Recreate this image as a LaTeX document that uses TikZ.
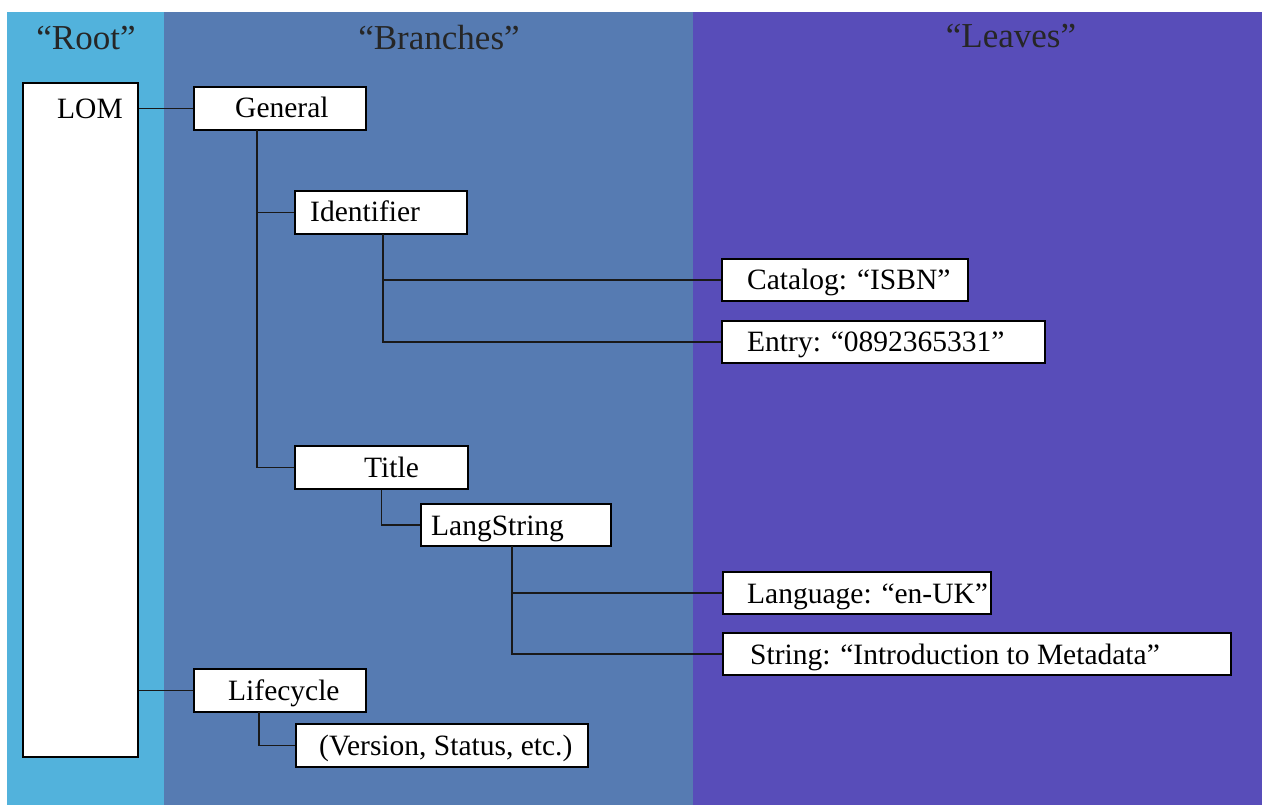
\documentclass[tikz,border=0pt]{standalone}
\usepackage{fontspec}
\setmainfont{Liberation Serif}
\definecolor{rootband}{RGB}{82,178,220}
\definecolor{branchband}{RGB}{86,123,178}
\definecolor{leafband}{RGB}{88,77,185}
\tikzset{
  box/.style={draw=black, line width=1.4pt, fill=white, rectangle, inner sep=0pt},
  lbl/.style={anchor=base west, inner sep=0pt, font=\fontsize{29.5}{32}\selectfont},
  heading/.style={anchor=base, inner sep=0pt, font=\fontsize{35}{38}\selectfont, text=black!85},
  link/.style={draw=black!90, line width=1.4pt}
}
\begin{document}
\begin{tikzpicture}[x=1pt, y=-1pt]
  % canvas and the three bands
  \fill[white] (0,0) rectangle (1262,805);
  \useasboundingbox (0,0) rectangle (1262,805);
  \fill[rootband] (7,12) rectangle (164,805);
  \fill[branchband] (164,12) rectangle (693,805);
  \fill[leafband] (693,12) rectangle (1262,805);

  % band headings
  \node[heading] (hroot) at (86,50) {“Root”};
  \node[heading] (hbranch) at (439,50) {“Branches”};
  \node[heading] (hleaf) at (1011,48) {“Leaves”};

  % boxes
  \node[box, minimum width=115pt, minimum height=674pt] (lom) at (80.5,420) {};
  \node[box, minimum width=172pt, minimum height=43pt] (gen) at (280,108.5) {};
  \node[box, minimum width=172pt, minimum height=43pt] (ident) at (381,212.5) {};
  \node[box, minimum width=246pt, minimum height=42pt] (cat) at (845,280) {};
  \node[box, minimum width=323pt, minimum height=42pt] (entry) at (883.5,342) {};
  \node[box, minimum width=173pt, minimum height=43pt] (title) at (381.5,467.5) {};
  \node[box, minimum width=190pt, minimum height=42pt] (lang) at (516,525) {};
  \node[box, minimum width=268pt, minimum height=42pt] (langu) at (857,593) {};
  \node[box, minimum width=508pt, minimum height=42pt] (str) at (977,654) {};
  \node[box, minimum width=172pt, minimum height=43pt] (life) at (280,690.5) {};
  \node[box, minimum width=292pt, minimum height=43pt] (ver) at (442,745.5) {};

  % box texts
  \node[lbl] (tlom) at (57,119) {LOM};
  \node[lbl] (tgen) at (235,118) {General};
  \node[lbl] (tident) at (310,222) {Identifier};
  \node[lbl] (tcat) at (747,290) {Catalog: “ISBN”};
  \node[lbl] (tentry) at (747,352) {Entry: “0892365331”};
  \node[lbl] (ttitle) at (364,477) {Title};
  \node[lbl] (tlang) at (431,535) {LangString};
  \node[lbl] (tlangu) at (747,603) {Language: “en-UK”};
  \node[lbl] (tstr) at (750,664) {String: “Introduction to Metadata”};
  \node[lbl] (tlife) at (228,700) {Lifecycle};
  \node[lbl] (tver) at (319,755) {(Version, Status, etc.)};

  % branch points of the tree
  \coordinate (genv) at (257,130);
  \coordinate (identv) at (383,234);
  \coordinate (langv) at (512,546);
  \coordinate (lifev) at (259,712);

  % connectors
  \draw[link] (gen.west) -- (gen.west -| lom.east);
  \draw[link] (life.west) -- (life.west -| lom.east);
  \draw[link] (genv) |- (title.west);
  \draw[link] (genv |- ident.west) -- (ident.west);
  \draw[link] (identv) |- (entry.west);
  \draw[link] (identv |- cat.west) -- (cat.west);
  \draw[link] (title.south) |- (lang.west);
  \draw[link] (langv) |- (str.west);
  \draw[link] (langv |- langu.west) -- (langu.west);
  \draw[link] (lifev) |- (ver.west);
\end{tikzpicture}
\end{document}
